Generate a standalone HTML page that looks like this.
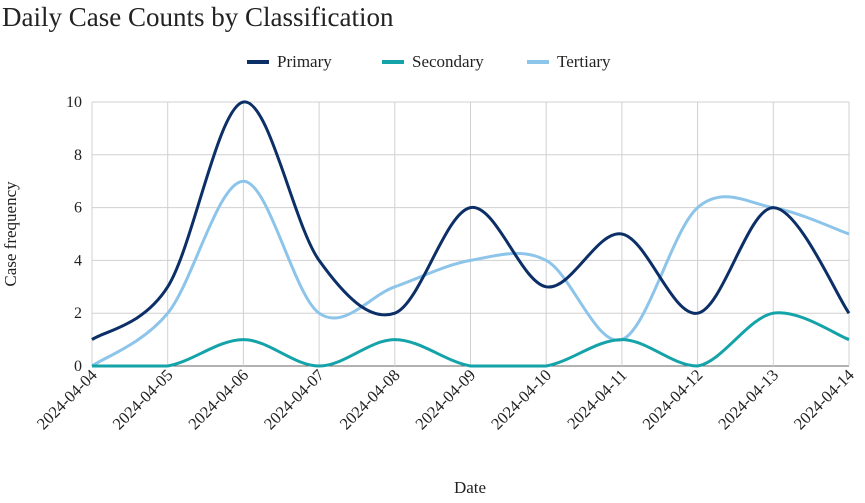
<!DOCTYPE html>
<html><head><meta charset="utf-8">
<style>
body{margin:0;background:#fff;font-family:"Liberation Serif",serif;}
svg text{font-family:"Liberation Serif",serif;fill:#222;}
</style></head>
<body>
<svg id="chart" width="865" height="498" viewBox="0 0 865 498" xmlns="http://www.w3.org/2000/svg">
<text x="2" y="26" font-size="27">Daily Case Counts by Classification</text>
<g id="legend"></g>
<g id="grid"></g>
<g id="series"></g>
<g id="axes"></g>
<text transform="translate(16,234) rotate(-90)" text-anchor="middle" font-size="17">Case frequency</text>
<text x="470" y="493" text-anchor="middle" font-size="17">Date</text>
</svg>
<script>
const dates = ["2024-04-04","2024-04-05","2024-04-06","2024-04-07","2024-04-08","2024-04-09","2024-04-10","2024-04-11","2024-04-12","2024-04-13","2024-04-14"];
const primary = [1,3,10,4,2,6,3,5,2,6,2];
const secondary = [0,0,1,0,1,0,0,1,0,2,1];
const tertiary = [0,2,7,2,3,4,4,1,6,6,5];
const yTicks = [0,2,4,6,8,10];
const seriesNames = ["Primary","Secondary","Tertiary"];
const colors = ["#0b2f66","#14a3a8","#8cc4ea"];

const NS="http://www.w3.org/2000/svg";
const x0=92,x1=849,y0=366,y1=102,yMax=10;
const xs=i=>x0+(x1-x0)*i/(dates.length-1);
const ys=v=>y0-(y0-y1)*v/yMax;
function mk(tag,attrs,parent){const e=document.createElementNS(NS,tag);for(const k in attrs)e.setAttribute(k,attrs[k]);parent.appendChild(e);return e;}
const grid=document.getElementById('grid'),axes=document.getElementById('axes'),ser=document.getElementById('series'),leg=document.getElementById('legend');
yTicks.forEach(t=>{
  const l=mk('line',{x1:x0,x2:x1,y1:ys(t),y2:ys(t),stroke:t===0?'#666':'#d0d0d0','stroke-width':1},grid);
  
  
  const tx=mk('text',{x:x0-10,y:ys(t)+5,'text-anchor':'end','font-size':16},axes);
  tx.textContent=t;
  
  
});
dates.forEach((d,i)=>{
  const l=mk('line',{x1:xs(i),x2:xs(i),y1:y1,y2:y0,stroke:'#d0d0d0','stroke-width':1},grid);
  
  
  const tx=mk('text',{transform:`translate(${xs(i)+6},${y0+10}) rotate(-45)`,'text-anchor':'end','font-size':16.5},axes);
  tx.textContent=d;
  
  
});
function path(vals){
  const p=vals.map((v,i)=>[xs(i),ys(v)]);
  let d=`M${p[0][0]},${p[0][1]}`;
  const cl=y=>Math.min(y,y0);
  for(let i=0;i<p.length-1;i++){
    const a=p[i-1]||p[i],b=p[i],c=p[i+1],e=p[i+2]||c;
    const c1=[b[0]+(c[0]-a[0])/6,cl(b[1]+(c[1]-a[1])/6)],c2=[c[0]-(e[0]-b[0])/6,cl(c[1]-(e[1]-b[1])/6)];
    d+=` C${c1[0]},${c1[1]} ${c2[0]},${c2[1]} ${c[0]},${c[1]}`;
  }
  return d;
}
[tertiary,secondary,primary].forEach((vals,k)=>{
  const idx=[2,1,0][k];
  const pe=mk('path',{d:path(vals),fill:'none',stroke:colors[idx],'stroke-width':3},ser);
  
  
});
const lx=[247,382,527];
seriesNames.forEach((n,i)=>{
  const g=mk('g',{},leg);
  
  
  mk('line',{x1:lx[i],x2:lx[i]+22,y1:62,y2:62,stroke:colors[i],'stroke-width':4},g);
  const t=mk('text',{x:lx[i]+30,y:67,'font-size':17},g);
  t.textContent=n;
});
</script>
</body></html>
